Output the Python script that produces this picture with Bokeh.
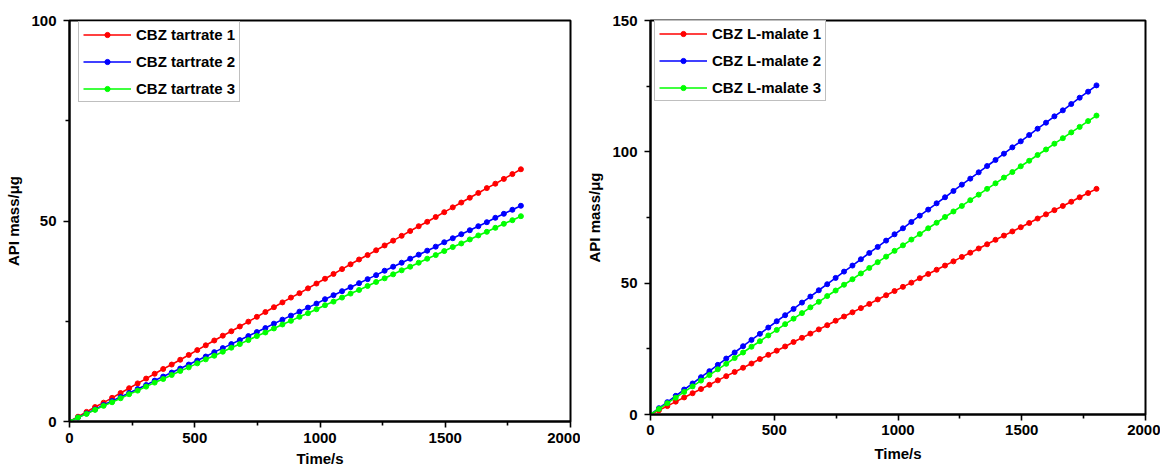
from bokeh.plotting import figure
from bokeh.layouts import row, column
from bokeh.models import FixedTicker
from bokeh.embed import file_html
from bokeh.resources import INLINE

time_s = [0, 34, 68, 102, 136, 170, 204, 238, 272, 306, 340, 374, 408, 442, 476, 510, 544, 578,
          612, 646, 680, 714, 748, 782, 816, 850, 884, 918, 952, 986, 1020, 1054, 1088, 1122,
          1156, 1190, 1224, 1258, 1292, 1326, 1360, 1394, 1428, 1462, 1496, 1530, 1564, 1598,
          1632, 1666, 1700, 1734, 1768, 1802]

tartrate_1 = [0.0, 1.2, 2.4, 3.6, 4.7, 5.9, 7.1, 8.3, 9.5, 10.7, 11.9, 13.1, 14.2, 15.4, 16.6, 17.8,
              19.0, 20.2, 21.4, 22.5, 23.7, 24.9, 26.1, 27.3, 28.5, 29.7, 30.9, 32.0, 33.2, 34.4,
              35.6, 36.8, 38.0, 39.2, 40.4, 41.5, 42.7, 43.9, 45.1, 46.3, 47.5, 48.7, 49.8, 51.0,
              52.2, 53.4, 54.6, 55.8, 57.0, 58.2, 59.3, 60.5, 61.7, 62.9]
tartrate_2 = [0.0, 1.0, 2.0, 3.0, 4.1, 5.1, 6.1, 7.1, 8.1, 9.1, 10.2, 11.2, 12.2, 13.2, 14.2, 15.2,
              16.2, 17.3, 18.3, 19.3, 20.3, 21.3, 22.3, 23.3, 24.4, 25.4, 26.4, 27.4, 28.4, 29.4,
              30.5, 31.5, 32.5, 33.5, 34.5, 35.5, 36.5, 37.6, 38.6, 39.6, 40.6, 41.6, 42.6, 43.6,
              44.7, 45.7, 46.7, 47.7, 48.7, 49.7, 50.8, 51.8, 52.8, 53.8]
tartrate_3 = [0.0, 1.0, 1.9, 2.9, 3.9, 4.8, 5.8, 6.8, 7.7, 8.7, 9.7, 10.6, 11.6, 12.6, 13.5, 14.5,
              15.5, 16.4, 17.4, 18.4, 19.3, 20.3, 21.3, 22.2, 23.2, 24.2, 25.1, 26.1, 27.0, 28.0,
              29.0, 29.9, 30.9, 31.9, 32.8, 33.8, 34.8, 35.7, 36.7, 37.7, 38.6, 39.6, 40.6, 41.5,
              42.5, 43.5, 44.4, 45.4, 46.4, 47.3, 48.3, 49.3, 50.2, 51.2]

malate_1 = [0.0, 1.6, 3.2, 4.9, 6.5, 8.1, 9.7, 11.3, 13.0, 14.6, 16.2, 17.8, 19.4, 21.1, 22.7, 24.3,
            25.9, 27.6, 29.2, 30.8, 32.4, 34.0, 35.7, 37.3, 38.9, 40.5, 42.1, 43.8, 45.4, 47.0,
            48.6, 50.2, 51.9, 53.5, 55.1, 56.7, 58.3, 60.0, 61.6, 63.2, 64.8, 66.5, 68.1, 69.7,
            71.3, 72.9, 74.6, 76.2, 77.8, 79.4, 81.0, 82.7, 84.3, 85.9]
malate_2 = [0.0, 2.4, 4.7, 7.1, 9.5, 11.8, 14.2, 16.5, 18.9, 21.3, 23.6, 26.0, 28.4, 30.7, 33.1, 35.5,
            37.8, 40.2, 42.6, 44.9, 47.3, 49.6, 52.0, 54.4, 56.7, 59.1, 61.5, 63.8, 66.2, 68.6,
            70.9, 73.3, 75.7, 78.0, 80.4, 82.7, 85.1, 87.5, 89.8, 92.2, 94.6, 96.9, 99.3, 101.7,
            104.0, 106.4, 108.8, 111.1, 113.5, 115.8, 118.2, 120.6, 122.9, 125.3]
malate_3 = [0.0, 2.1, 4.3, 6.4, 8.6, 10.7, 12.9, 15.0, 17.2, 19.3, 21.5, 23.6, 25.8, 27.9, 30.1, 32.2,
            34.4, 36.5, 38.6, 40.8, 42.9, 45.1, 47.2, 49.4, 51.5, 53.7, 55.8, 58.0, 60.1, 62.3,
            64.4, 66.6, 68.7, 70.9, 73.0, 75.2, 77.3, 79.4, 81.6, 83.7, 85.9, 88.0, 90.2, 92.3,
            94.5, 96.6, 98.8, 100.9, 103.1, 105.2, 107.4, 109.5, 111.7, 113.8]

left_labels = ["CBZ tartrate 1", "CBZ tartrate 2", "CBZ tartrate 3"]
right_labels = ["CBZ L-malate 1", "CBZ L-malate 2", "CBZ L-malate 3"]
colors = ["#FF0000", "#0000FF", "#00FF00"]

x_major = [0, 500, 1000, 1500, 2000]
x_minor = [250, 750, 1250, 1750]

FONT = "Liberation Sans"


def make_panel(series, labels, y_max, y_major, y_minor, width, height, bl, br, bt, bb,
               xl_standoff, xt_standoff, legend_loc):
    p = figure(width=width, height=height, x_range=(0, 2000), y_range=(0, y_max),
               output_backend="svg", toolbar_location=None,
               min_border_left=bl, min_border_right=br, min_border_top=bt, min_border_bottom=bb)
    p.grid.visible = False
    p.outline_line_color = "black"
    p.outline_line_width = 2
    p.outline_line_alpha = 1
    for ys, lab, c in zip(series, labels, colors):
        p.line(time_s, ys, line_color=c, line_width=1.6, legend_label=lab)
        p.scatter(time_s, ys, size=5, fill_color=c, line_color=c, legend_label=lab)
    p.xaxis.ticker = FixedTicker(ticks=x_major, minor_ticks=x_minor)
    p.yaxis.ticker = FixedTicker(ticks=y_major, minor_ticks=y_minor)
    for ax in (p.xaxis[0], p.yaxis[0]):
        ax.axis_line_width = 2
        ax.major_tick_line_width = 1.6
        ax.minor_tick_line_width = 1.6
        ax.major_tick_out = 6
        ax.major_tick_in = 0
        ax.minor_tick_out = 4
        ax.minor_tick_in = 0
        ax.major_label_text_font = FONT
        ax.major_label_text_font_style = "bold"
        ax.major_label_text_font_size = "15px"
        ax.major_label_text_color = "black"
        ax.axis_label_text_font = FONT
        ax.axis_label_text_font_style = "bold"
        ax.axis_label_text_font_size = "15px"
        ax.axis_label_text_color = "black"
    p.xaxis.axis_label = "Time/s"
    p.yaxis.axis_label = "API mass/\u03bcg"
    p.xaxis.major_label_standoff = xl_standoff
    p.xaxis.axis_label_standoff = xt_standoff
    p.yaxis.major_label_standoff = 7
    p.yaxis.axis_label_standoff = 6
    lg = p.legend[0]
    lg.location = legend_loc
    lg.border_line_color = "#808080"
    lg.border_line_width = 1
    lg.margin = 0
    lg.padding = 4
    lg.spacing = 10
    lg.label_text_font = FONT
    lg.label_text_font_style = "bold"
    lg.label_text_font_size = "15px"
    lg.label_text_color = "black"
    lg.glyph_width = 48
    lg.glyph_height = 13
    lg.label_standoff = 5
    lg.background_fill_alpha = 1
    return p


p1 = make_panel([tartrate_1, tartrate_2, tartrate_3], left_labels, 100, [0, 50, 100], [25, 75],
                580, 473, 69, 10, 20, 52, 5, 4, (9, 319))
p2 = make_panel([malate_1, malate_2, malate_3], right_labels, 150, [0, 50, 100, 150], [25, 75, 125],
                580, 473, 70, 15, 20, 59, 4, 7, (4, 313))

layout = row(column(p1), column(p2), spacing=0)
open("out.html", "w").write(file_html(layout, INLINE))
